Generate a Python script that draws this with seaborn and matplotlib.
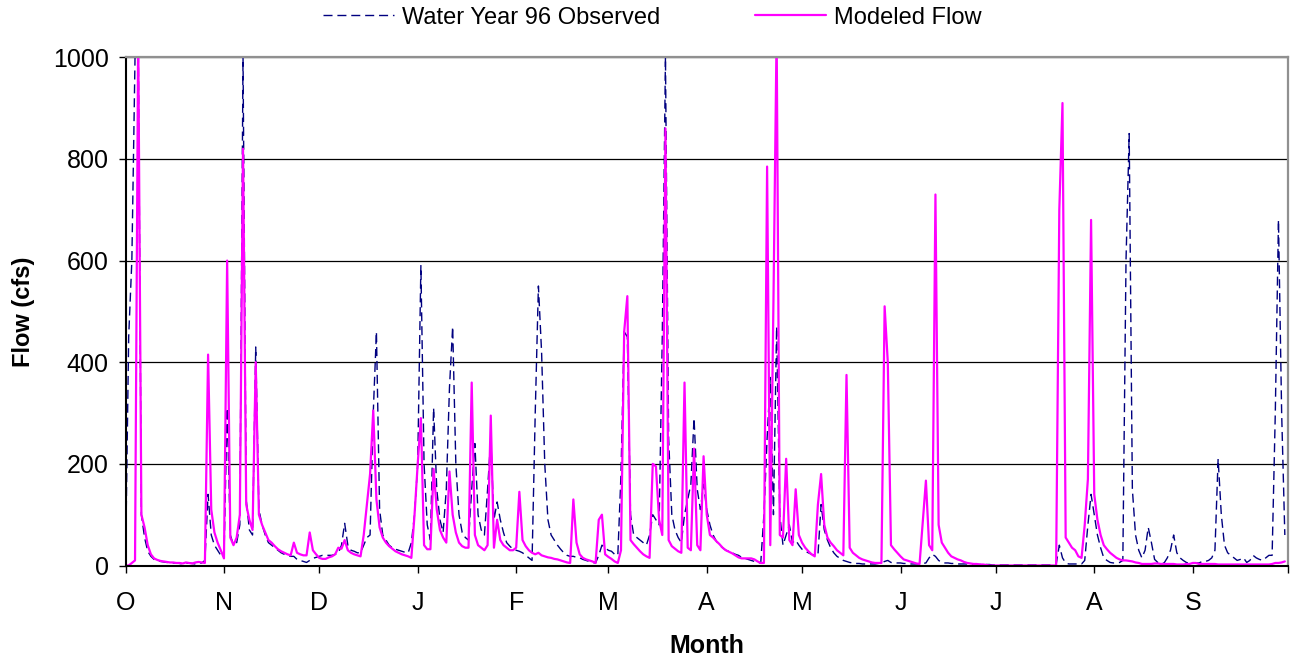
import numpy as np
import pandas as pd
import matplotlib
matplotlib.use("Agg")
import matplotlib.pyplot as plt
import seaborn as sns

# ---- data (daily flow, water year 1996: Oct 1 .. Sep 30, 366 days) ----
month_labels = ["O", "N", "D", "J", "F", "M", "A", "M", "J", "J", "A", "S"]
month_start_days = [0, 31, 61, 92, 123, 152, 183, 213, 244, 274, 305, 336]
y_ticks = [0, 200, 400, 600, 800, 1000]
series_names = ["Water Year 96 Observed", "Modeled Flow"]

observed = [
    0, 450, 600, 1000, 1050, 100, 55, 28, 18, 12,
    10, 8, 7, 6, 6, 5, 5, 4, 3, 4,
    5, 4, 3, 4, 5, 10, 140, 60, 40, 30,
    20, 15, 310, 60, 40, 45, 80, 1000, 130, 70,
    60, 430, 110, 80, 60, 45, 40, 35, 30, 25,
    22, 20, 18, 18, 12, 10, 8, 6, 10, 14,
    16, 18, 20, 20, 20, 20, 22, 24, 40, 83,
    40, 30, 28, 25, 25, 40, 55, 60, 300, 460,
    110, 60, 50, 40, 35, 32, 30, 28, 26, 25,
    45, 100, 200, 590, 200, 80, 50, 310, 150, 90,
    65, 150, 350, 470, 200, 100, 65, 55, 50, 150,
    240, 100, 70, 60, 150, 250, 90, 125, 90, 65,
    45, 38, 32, 30, 28, 25, 20, 15, 10, 300,
    550, 420, 200, 90, 60, 50, 40, 32, 25, 20,
    18, 18, 16, 15, 12, 10, 8, 6, 5, 20,
    40, 35, 30, 28, 22, 20, 180, 460, 450, 100,
    60, 55, 50, 45, 40, 60, 100, 90, 80, 450,
    1000, 250, 100, 70, 55, 45, 100, 130, 160, 290,
    150, 110, 160, 110, 80, 60, 48, 40, 35, 30,
    28, 25, 22, 20, 16, 14, 12, 10, 8, 6,
    5, 100, 250, 370, 100, 470, 100, 40, 60, 80,
    45, 50, 40, 32, 28, 25, 22, 20, 20, 120,
    70, 50, 35, 25, 18, 14, 10, 8, 6, 5,
    4, 4, 3, 3, 3, 3, 3, 4, 5, 8,
    10, 6, 5, 5, 5, 4, 4, 3, 3, 3,
    3, 4, 5, 15, 22, 18, 10, 6, 5, 5,
    4, 4, 3, 3, 3, 3, 2, 2, 2, 2,
    2, 2, 2, 1, 1, 1, 1, 1, 1, 1,
    1, 1, 1, 1, 1, 1, 1, 1, 1, 1,
    1, 1, 1, 2, 40, 15, 5, 3, 3, 3,
    3, 3, 10, 80, 140, 100, 60, 35, 15, 10,
    6, 5, 5, 6, 10, 600, 850, 150, 60, 30,
    15, 30, 75, 45, 12, 6, 4, 5, 15, 30,
    60, 25, 15, 10, 6, 4, 4, 5, 5, 8,
    8, 10, 15, 30, 210, 100, 40, 25, 20, 15,
    10, 12, 15, 6, 10, 20, 15, 12, 10, 15,
    20, 20, 300, 680, 300, 60,
]

modeled = [
    0, 0, 5, 10, 1050, 100, 75, 40, 22, 14,
    11, 9, 8, 7, 6, 6, 5, 5, 4, 6,
    5, 4, 6, 7, 6, 5, 415, 110, 65, 45,
    30, 14, 600, 55, 40, 55, 100, 820, 120, 90,
    70, 400, 100, 80, 65, 50, 45, 38, 32, 28,
    25, 22, 20, 45, 25, 22, 20, 20, 65, 30,
    22, 15, 13, 13, 16, 18, 22, 35, 33, 50,
    30, 25, 22, 20, 18, 60, 120, 180, 305, 130,
    75, 55, 45, 38, 33, 28, 25, 22, 20, 18,
    15, 100, 200, 290, 40, 32, 32, 190, 110, 70,
    55, 45, 185, 100, 65, 45, 38, 35, 35, 360,
    60, 40, 35, 30, 40, 295, 35, 90, 50, 40,
    35, 30, 30, 35, 145, 50, 38, 30, 25, 22,
    25, 20, 18, 16, 15, 13, 12, 10, 8, 6,
    5, 130, 45, 22, 15, 12, 10, 8, 5, 90,
    100, 22, 17, 13, 8, 5, 30, 460, 530, 50,
    42, 35, 28, 22, 18, 15, 200, 195, 90, 60,
    860, 50, 38, 33, 28, 25, 360, 35, 30, 230,
    40, 30, 215, 100, 60, 55, 48, 42, 35, 30,
    27, 24, 20, 16, 14, 14, 14, 14, 12, 8,
    5, 5, 785, 40, 520, 1050, 60, 55, 210, 50,
    40, 150, 60, 45, 35, 28, 22, 18, 120, 180,
    80, 55, 45, 38, 30, 25, 20, 375, 35, 25,
    20, 15, 12, 10, 8, 6, 5, 5, 5, 510,
    400, 40, 32, 25, 18, 12, 10, 8, 6, 4,
    3, 85, 167, 40, 30, 730, 80, 45, 35, 25,
    18, 15, 12, 10, 7, 5, 4, 3, 3, 2,
    2, 1, 0, 0, 0, 0, 0, 0, 0, 0,
    0, 0, 0, 0, 0, 0, 0, 0, 0, 0,
    0, 0, 0, 0, 700, 910, 55, 45, 35, 30,
    18, 15, 80, 170, 680, 140, 90, 60, 40, 32,
    25, 20, 15, 12, 10, 10, 9, 8, 6, 5,
    3, 3, 3, 3, 4, 4, 3, 3, 3, 3,
    3, 2, 2, 2, 3, 3, 5, 5, 3, 3,
    3, 3, 3, 3, 2, 2, 2, 2, 2, 2,
    2, 2, 2, 2, 2, 2, 2, 2, 2, 2,
    2, 3, 5, 5, 6, 8,
]

# ---- styling ----
sns.set_theme(style="white")
plt.rcParams["font.family"] = ["Liberation Sans", "DejaVu Sans"]
plt.rcParams["text.color"] = "black"
plt.rcParams["axes.labelcolor"] = "black"
plt.rcParams["xtick.color"] = "black"
plt.rcParams["ytick.color"] = "black"

W, H = 1294, 662
fig = plt.figure(figsize=(W / 100, H / 100), dpi=100)
left_px, right_px, top_px, bottom_px = 125.5, 1288.0, 57.3, 565.5
ax = fig.add_axes([left_px / W, 1 - bottom_px / H,
                   (right_px - left_px) / W, (bottom_px - top_px) / H])

n_days = len(observed)
df = pd.DataFrame({"day": np.arange(n_days),
                   series_names[0]: observed,
                   series_names[1]: modeled})

ax.set_axisbelow(True)
ax.yaxis.grid(True, color="black", linewidth=0.9)
ax.xaxis.grid(False)

sns.lineplot(data=df, x="day", y=series_names[0], ax=ax, color="#000080",
             linewidth=1.0, linestyle=(0, (6.5, 3.5)), label=series_names[0],
             legend=False)
sns.lineplot(data=df, x="day", y=series_names[1], ax=ax, color="#FF00FF",
             linewidth=1.6, label=series_names[1], legend=False)

ax.set_xlim(0, n_days)
ax.set_ylim(0, 1000)
ax.set_yticks(y_ticks)
ax.set_yticklabels([str(v) for v in y_ticks])
ax.set_xticks(month_start_days + [n_days])
ax.set_xticklabels(month_labels + [""])

ax.tick_params(axis="both", which="major", direction="out", length=5,
               width=1.0, color="black", labelsize=18, labelcolor="black",
               bottom=True, left=True)
ax.tick_params(axis="x", pad=13)
ax.tick_params(axis="y", pad=7)

for side in ["left", "bottom"]:
    ax.spines[side].set_color("black")
    ax.spines[side].set_linewidth(1.5)
for side in ["top", "right"]:
    ax.spines[side].set_color("#909090")
    ax.spines[side].set_linewidth(1.6)
    ax.spines[side].set_visible(True)

ax.set_xlabel("Month", fontsize=18, fontweight="bold", va="center", color="black")
ax.xaxis.set_label_coords(0.5, (bottom_px - 646) / (bottom_px - top_px))
ax.set_ylabel("Flow (cfs)", fontsize=17, fontweight="bold", va="center", color="black")
ax.yaxis.set_label_coords((23 - left_px) / (right_px - left_px), 0.5)

handles, labels = ax.get_legend_handles_labels()
fig.legend(handles, labels, loc="center", bbox_to_anchor=(652.5 / W, 1 - 17.5 / H),
           ncol=2, frameon=False, fontsize=17, handlelength=3.0,
           handletextpad=0.35, columnspacing=4.0)

fig.savefig("out.png", dpi=100, facecolor="white")
